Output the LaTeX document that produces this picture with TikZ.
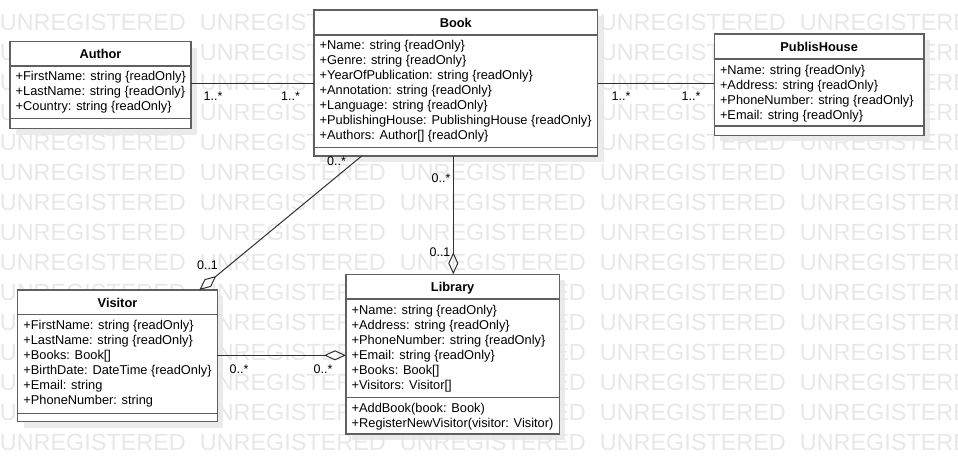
\documentclass[tikz,border=0pt]{standalone}
\usepackage{fontspec}
\setmainfont{Liberation Sans}
\usetikzlibrary{arrows.meta}
\definecolor{wmark}{HTML}{E8E8E8}
\definecolor{shadowc}{HTML}{EBEBEB}
\definecolor{bordc}{HTML}{606060}
\definecolor{linec}{HTML}{303030}
\newcommand{\attrfont}{\fontsize{12.8}{15}\selectfont}
\newcommand{\classlines}[4]{%
  \foreach \t [count=\i] in {#4} {\node[attrtext] (#1\i) at (#2, #3+15*\i-15) {\t};}}
\begin{document}
\begin{tikzpicture}[x=1pt,y=-1pt,
  cls/.style={draw=bordc,line width=1.4pt,fill=white,anchor=north west,inner sep=0pt,outer sep=0pt},
  sepline/.style={draw=bordc,line width=1.4pt},
  ttl/.style={font=\attrfont\bfseries,inner sep=0pt,anchor=base},
  attrtext/.style={font=\attrfont,inner sep=0pt,anchor=base west},
  mult/.style={font=\fontsize{12.5}{14}\selectfont,inner sep=0pt,anchor=base},
  assoc/.style={draw=linec,line width=1pt},
  aggr/.style={assoc,-{Diamond[open,length=22pt,width=10pt]}},
  wm/.style={font=\fontsize{23.4}{28}\selectfont,text=wmark,inner sep=0pt,anchor=base west}]

\useasboundingbox (0,0) rectangle (958,474);
\fill[white] (0,0) rectangle (958,474);

% shadows
\fill[shadowc] (16,47.7) rectangle (197,134.7);
\fill[shadowc] (320,16) rectangle (603.7,162);
\fill[shadowc] (720.3,40) rectangle (930,141.3);
\fill[shadowc] (23.7,296) rectangle (223.3,427.7);
\fill[shadowc] (352,280.3) rectangle (565.3,440);

% watermark
\foreach \r in {0,...,14} {\foreach \c in {0,...,4} {\node[wm] (wm\r-\c) at (200*\c-0.3, 30.2+30*\r) {UNREGISTERED};}}

% Author
\node[cls,minimum width=181pt,minimum height=87pt] (author) at (10,41.7) {};
\draw[sepline] (10,66) -- (191,66);
\draw[sepline] (10,118.5) -- (191,118.5);
\node[ttl] (authorT) at (100.5,58.5) {Author};
\classlines{authorA}{15.5}{80.7}{+FirstName: string \{readOnly\},+LastName: string \{readOnly\},+Country: string \{readOnly\}}

% Book
\node[cls,minimum width=283.7pt,minimum height=146pt] (book) at (314,10) {};
\draw[sepline] (314,35) -- (597.7,35);
\draw[sepline] (314,147.5) -- (597.7,147.5);
\node[ttl] (bookT) at (455.85,27.3) {Book};
\classlines{bookA}{319.5}{49.5}{+Name: string \{readOnly\},+Genre: string \{readOnly\},+YearOfPublication: string \{readOnly\},+Annotation: string \{readOnly\},+Language: string \{readOnly\},+PublishingHouse: PublishingHouse \{readOnly\},+Authors: Author[] \{readOnly\}}

% PublisHouse
\node[cls,minimum width=209.7pt,minimum height=101.3pt] (pub) at (714.3,34) {};
\draw[sepline] (714.3,59) -- (924,59);
\draw[sepline] (714.3,126) -- (924,126);
\node[ttl] (pubT) at (819.15,51) {PublisHouse};
\classlines{pubA}{719.8}{74}{+Name: string \{readOnly\},+Address: string \{readOnly\},+PhoneNumber: string \{readOnly\},+Email: string \{readOnly\}}

% Visitor
\node[cls,minimum width=199.6pt,minimum height=131.7pt] (visitor) at (17.7,290) {};
\draw[sepline] (17.7,314.3) -- (217.3,314.3);
\draw[sepline] (17.7,413.3) -- (217.3,413.3);
\node[ttl] (visitorT) at (117.5,307.2) {Visitor};
\classlines{visitorA}{23.2}{329.5}{+FirstName: string \{readOnly\},+LastName: string \{readOnly\},+Books: Book[],+BirthDate: DateTime \{readOnly\},+Email: string,+PhoneNumber: string}

% Library
\node[cls,minimum width=213.3pt,minimum height=159.7pt] (library) at (346,274.3) {};
\draw[sepline] (346,299) -- (559.3,299);
\draw[sepline] (346,397.3) -- (559.3,397.3);
\node[ttl] (libraryT) at (452.65,291) {Library};
\classlines{libraryA}{351.5}{314.3}{+Name: string \{readOnly\},+Address: string \{readOnly\},+PhoneNumber: string \{readOnly\},+Email: string \{readOnly\},+Books: Book[],+Visitors: Visitor[]}
\classlines{libraryO}{351.5}{412}{+AddBook(book: Book),+RegisterNewVisitor(visitor: Visitor)}

% connectors
\draw[assoc] (author.east |- 0,83.7) -- (book.west |- 0,83.7);
\draw[assoc] (book.east |- 0,83.3) -- (pub.west |- 0,83.3);
\draw[aggr] (book.south -| 361.7,0) -- (visitor.north -| 199.3,0);
\draw[aggr] (book.south -| 453.3,0) -- (library.north -| 453.3,0);
\draw[aggr] (visitor.east |- 0,355.3) -- (library.west |- 0,355.3);

% multiplicities
\node[mult] (m1) at (213,100.3) {1..*};
\node[mult] (m2) at (290.5,100.3) {1..*};
\node[mult] (m3) at (621,100) {1..*};
\node[mult] (m4) at (691,100) {1..*};
\node[mult] (m5) at (336.5,165) {0..*};
\node[mult] (m6) at (207.5,269) {0..1};
\node[mult] (m7) at (441,182.7) {0..*};
\node[mult] (m8) at (440,256) {0..1};
\node[mult] (m9) at (239,373) {0..*};
\node[mult] (m10) at (323,373) {0..*};
\end{tikzpicture}
\end{document}
